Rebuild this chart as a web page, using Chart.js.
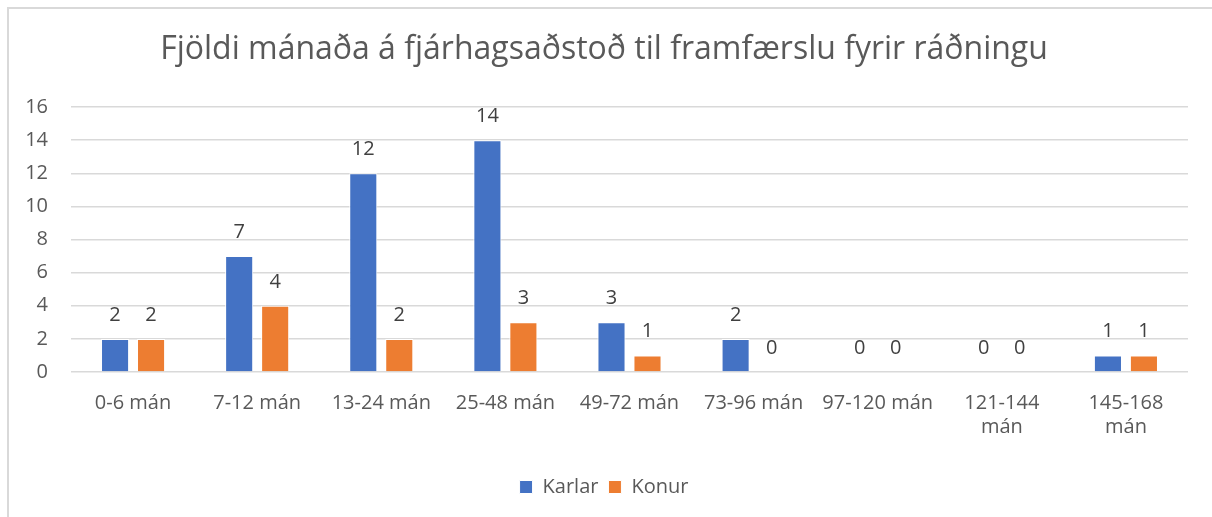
<!DOCTYPE html>
<html>
<head>
<meta charset="utf-8">
<script src="https://cdn.jsdelivr.net/npm/chart.js@4.4.1/dist/chart.umd.min.js"></script>
<style>
  html, body { margin: 0; padding: 0; background: #fff; overflow: hidden; }
  #frame { position: absolute; left: 7px; top: 7px; width: 1250px; height: 560px; border: 2px solid #d9d9d9; box-sizing: border-box; }
  #wrap { position: absolute; left: 0; top: 0; width: 1212px; height: 517px; }
</style>
</head>
<body>
<div id="frame"></div>
<div id="wrap"><canvas id="chart"></canvas></div>
<script>
const categories = ['0-6 mán', '7-12 mán', '13-24 mán', '25-48 mán', '49-72 mán', '73-96 mán', '97-120 mán', ['121-144', 'mán'], ['145-168', 'mán']];
const karlar = [2, 7, 12, 14, 3, 2, 0, 0, 1];
const konur = [2, 4, 2, 3, 1, 0, 0, 0, 1];
const chartTitle = 'Fjöldi mánaða á fjárhagsaðstoð til framfærslu fyrir ráðningu';

const fontFamily = '"Open Sans", sans-serif';

// value labels above each bar
const valueLabels = {
    id: 'valueLabels',
    afterDatasetsDraw(chart) {
        const ctx = chart.ctx;
        ctx.save();
        ctx.font = '20px ' + fontFamily;
        ctx.fillStyle = '#404040';
        ctx.textAlign = 'center';
        ctx.textBaseline = 'alphabetic';
        chart.data.datasets.forEach(function(ds, i) {
            chart.getDatasetMeta(i).data.forEach(function(bar, j) {
                ctx.fillText(String(ds.data[j]), bar.x, bar.y - 18);
            });
        });
        ctx.restore();
    }
};

new Chart(document.getElementById('chart').getContext('2d'), {
    type: 'bar',
    data: {
        labels: categories,
        datasets: [{
            label: 'Karlar',
            data: karlar,
            backgroundColor: '#4472c4',
            borderColor: '#ffffff',
            borderWidth: 1
        }, {
            label: 'Konur',
            data: konur,
            backgroundColor: '#ed7d31',
            borderColor: '#ffffff',
            borderWidth: 1
        }]
    },
    options: {
        responsive: true,
        maintainAspectRatio: false,
        animation: false,
        categoryPercentage: 0.58,
        barPercentage: 0.78,
        layout: { padding: { left: 20, right: 24, top: 22, bottom: 10 } },
        plugins: {
            title: {
                display: true,
                text: chartTitle,
                color: '#595959',
                font: { family: fontFamily, size: 32, weight: 'normal' },
                padding: { top: 9, bottom: 37.6 }
            },
            legend: {
                position: 'bottom',
                labels: {
                    color: '#595959',
                    font: { family: fontFamily, size: 20 },
                    boxWidth: 13,
                    boxHeight: 13,
                    padding: 10
                }
            },
            tooltip: { enabled: false }
        },
        scales: {
            x: {
                grid: { display: false },
                border: { display: false },
                afterFit: function(scale) { scale.height = scale.height + 17; },
                ticks: {
                    color: '#595959',
                    font: { family: fontFamily, size: 20 },
                    padding: 11,
                    maxRotation: 0,
                    autoSkip: false
                }
            },
            y: {
                min: 0,
                max: 16,
                grid: { color: '#d9d9d9', lineWidth: 1.5, drawTicks: false },
                border: { display: false },
                afterFit: function(scale) { scale.width = 51; },
                ticks: {
                    stepSize: 2,
                    color: '#595959',
                    font: { family: fontFamily, size: 20 },
                    padding: 23
                }
            }
        }
    },
    plugins: [valueLabels]
});
</script>
</body>
</html>
